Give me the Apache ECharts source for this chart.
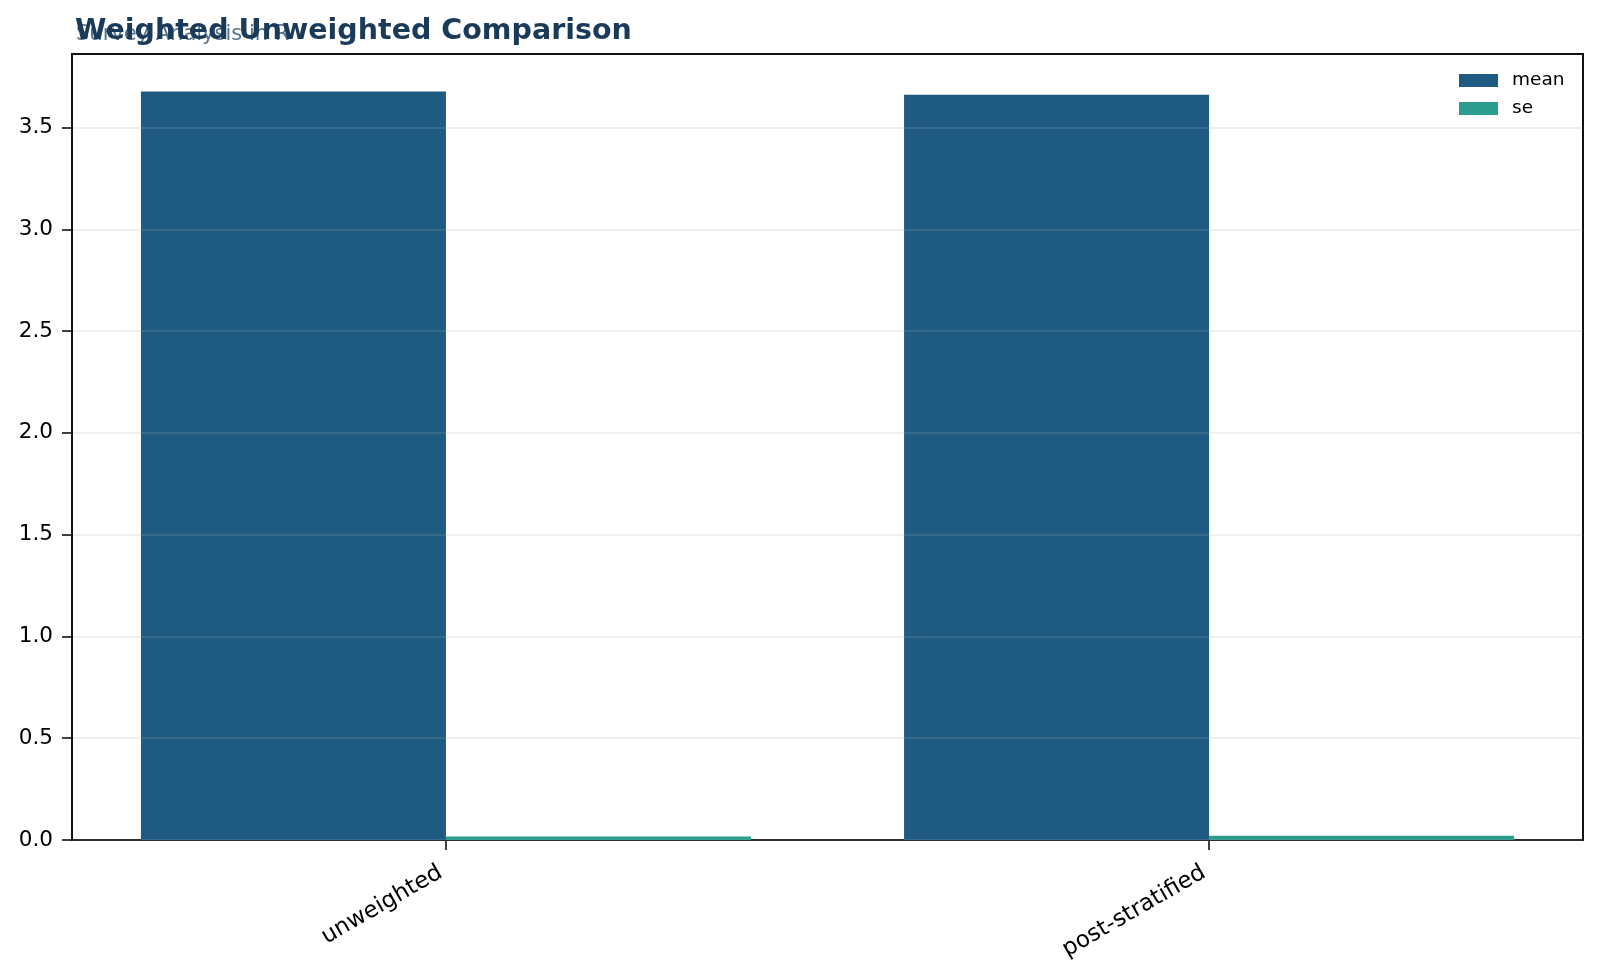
<!DOCTYPE html>
<html>
<head>
<meta charset="utf-8">
<title>Weighted Unweighted Comparison</title>
<script src="https://cdn.jsdelivr.net/npm/echarts@6/dist/echarts.min.js"></script>
<style>
  html, body { margin: 0; padding: 0; background: #fff; }
  #chart { width: 1600px; height: 978px; }
</style>
</head>
<body>
<div id="chart"></div>
<script>
// data
var categories = ['unweighted', 'post-stratified'];
var meanValues = [3.677, 3.661];
var seValues = [0.017, 0.021];
var yTicks = [0, 0.5, 1, 1.5, 2, 2.5, 3, 3.5];
var xTicks = [0, 1];

var font = 'DejaVu Sans';

function pairs(vals) {
    var out = [];
    for (var i = 0; i < vals.length; i++) {
        out.push([i, vals[i]]);
    }
    return out;
}

var myChart = echarts.init(document.getElementById('chart'));
var option = {
    animation: false,
    backgroundColor: '#fff',
    title: [
        {
            text: 'Survey Analysis in R',
            left: 71,
            top: 19,
            textStyle: {
                fontFamily: font,
                fontSize: 21,
                fontWeight: 'normal',
                color: 'rgba(60,90,118,0.85)'
            }
        },
        {
            text: 'Weighted Unweighted Comparison',
            left: 70,
            top: 12,
            textStyle: {
                fontFamily: font,
                fontSize: 28.5,
                fontWeight: 'bold',
                color: '#1a3a5a'
            }
        }
    ],
    legend: {
        orient: 'vertical',
        left: 1454,
        top: 66,
        itemWidth: 39,
        itemHeight: 13,
        itemGap: 9,
        icon: 'rect',
        textStyle: {
            fontFamily: font,
            fontSize: 18.5,
            color: '#000',
            padding: [0, 0, 0, 9]
        },
        data: ['mean', 'se']
    },
    grid: {
        left: 72,
        right: 17,
        top: 54,
        bottom: 138,
        show: true,
        borderColor: '#111',
        borderWidth: 2,
        backgroundColor: 'transparent'
    },
    xAxis: {
        type: 'value',
        min: -0.49,
        max: 1.49,
        axisLine: { show: true, onZero: false, lineStyle: { color: '#111', width: 2 } },
        axisTick: {
            show: true,
            length: 10,
            customValues: xTicks,
            lineStyle: { color: '#111', width: 1.6 }
        },
        axisLabel: {
            customValues: xTicks,
            rotate: 30,
            margin: 28,
            padding: [0, 6, 0, 0],
            fontFamily: font,
            fontSize: 23,
            color: '#000',
            formatter: function (v) { return categories[Math.round(v)]; }
        },
        splitLine: { show: false }
    },
    yAxis: {
        type: 'value',
        min: 0,
        max: 3.861,
        z: 5,
        axisLine: { show: true, onZero: false, lineStyle: { color: '#111', width: 2 } },
        axisTick: {
            show: true,
            length: 10,
            customValues: yTicks,
            lineStyle: { color: '#111', width: 1.6 }
        },
        axisLabel: {
            customValues: yTicks,
            margin: 19,
            fontFamily: font,
            fontSize: 21.5,
            color: '#000',
            formatter: function (v) { return v.toFixed(1); }
        },
        splitLine: {
            show: true,
            lineStyle: { color: 'rgba(170,170,170,0.25)', width: 1.5 }
        }
    },
    series: [
        {
            name: 'mean',
            type: 'bar',
            barWidth: 305,
            barGap: '0%',
            itemStyle: { color: '#1f5a82' },
            data: pairs(meanValues)
        },
        {
            name: 'se',
            type: 'bar',
            barWidth: 305,
            barGap: '0%',
            itemStyle: { color: '#2a9d8f' },
            data: pairs(seValues)
        }
    ]
};
myChart.setOption(option);
</script>
</body>
</html>
